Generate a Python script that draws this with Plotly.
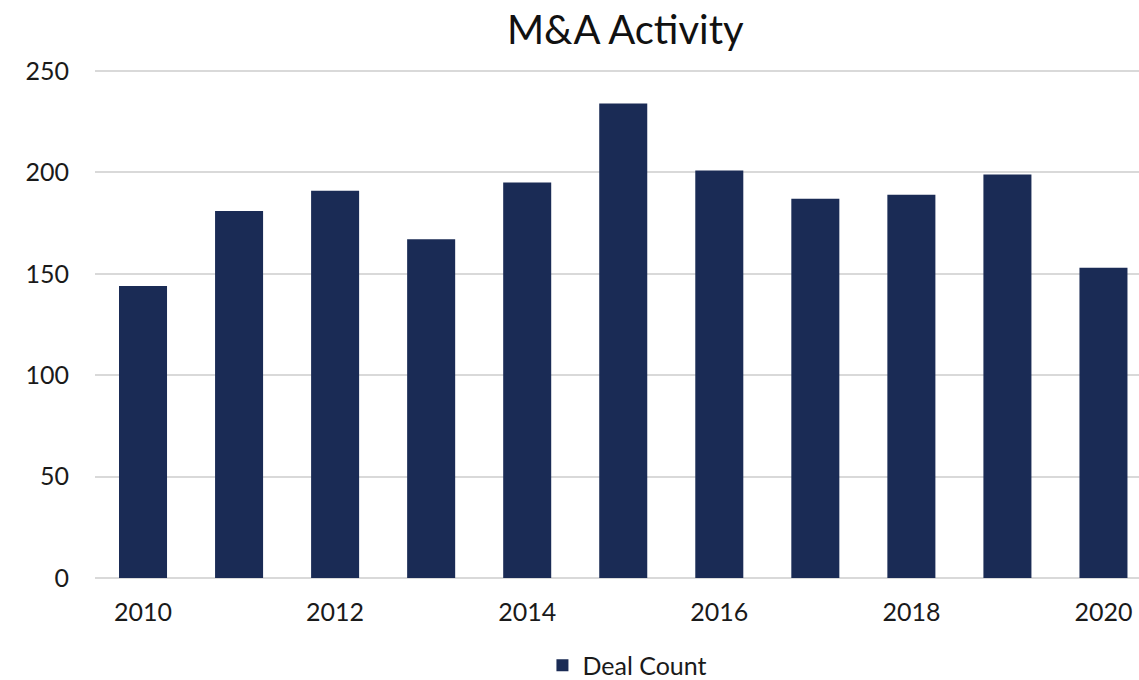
import plotly.graph_objects as go

years = [2010, 2011, 2012, 2013, 2014, 2015, 2016, 2017, 2018, 2019, 2020]
deal_count = [144, 181, 191, 167, 195, 234, 201, 187, 189, 199, 153]
y_ticks = [0, 50, 100, 150, 200, 250]
x_ticks = [2010, 2012, 2014, 2016, 2018, 2020]

FONT = "Lato"
BAR = "#1a2b55"

fig = go.Figure()
fig.add_trace(go.Bar(
    x=years, y=deal_count, name="Deal Count",
    marker=dict(color=BAR, line=dict(width=0)),
    width=0.5,
))

fig.update_layout(
    width=1139, height=680,
    paper_bgcolor="white", plot_bgcolor="white",
    margin=dict(l=95, r=0, t=70, b=102, autoexpand=False),
    font=dict(family=FONT, size=25, color="#1a1a1a"),
    title=dict(text="M&A Activity", x=0.549, xref="container", xanchor="center",
               y=0.956, yref="container", yanchor="middle",
               font=dict(family=FONT, size=40, color="#111111")),
    showlegend=True,
    legend=dict(orientation="h", xref="paper", x=0.51, xanchor="center",
                yref="paper", y=-0.172, yanchor="middle",
                font=dict(family=FONT, size=25), itemwidth=30),
    xaxis=dict(range=[2009.5, 2020.37], tickmode="array", tickvals=x_ticks,
               ticktext=[str(v) for v in x_ticks], showgrid=False, zeroline=False,
               showline=False, ticks="", ticklabelstandoff=17),
    yaxis=dict(range=[0, 250.5], tickmode="array", tickvals=y_ticks, showgrid=True,
               gridcolor="#d9d9d9", gridwidth=2, zeroline=True, zerolinecolor="#d9d9d9",
               zerolinewidth=2, showline=False, ticks="", ticklabelstandoff=25),
    bargap=0.5,
)

fig.write_html("out.html", config={"displayModeBar": False},
               post_script="document.body.style.margin='0';document.body.style.overflow='hidden';")
